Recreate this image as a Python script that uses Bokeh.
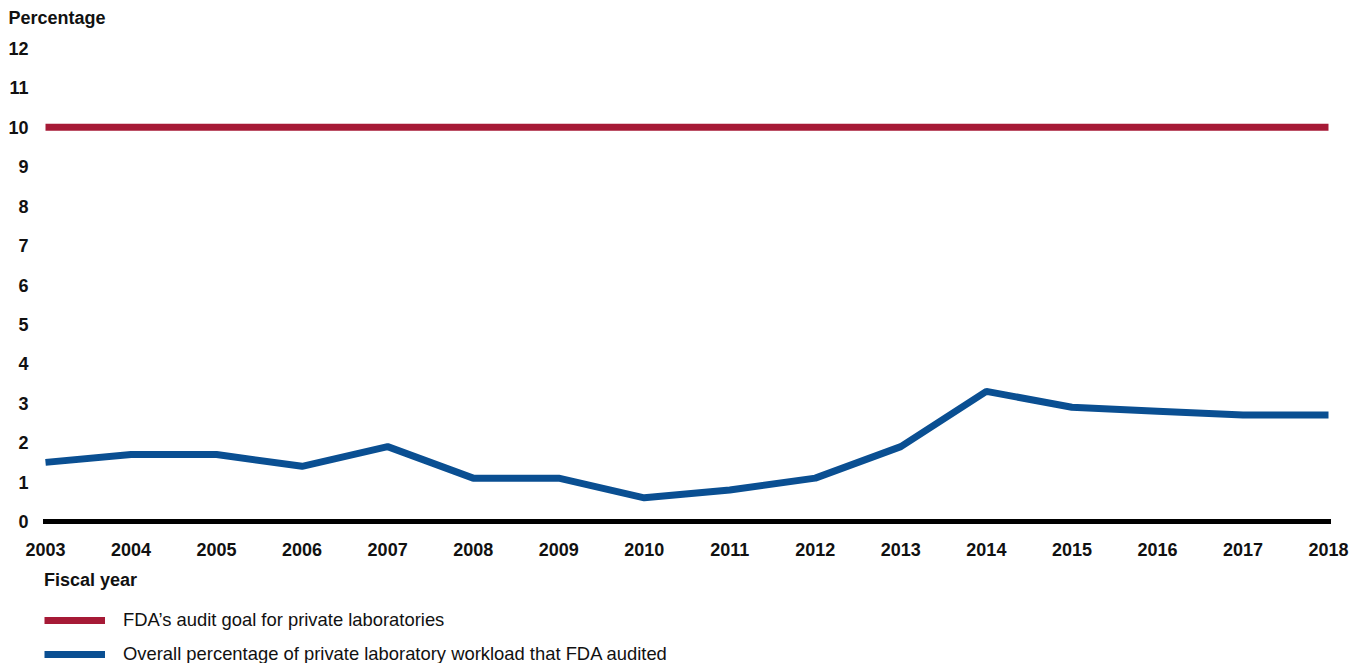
from bokeh.plotting import figure
from bokeh.models import Range1d, FixedTicker, Label, Legend, LegendItem
from bokeh.embed import file_html
from bokeh.resources import INLINE

years = [2003, 2004, 2005, 2006, 2007, 2008, 2009, 2010, 2011, 2012, 2013, 2014, 2015, 2016, 2017, 2018]
audited_pct = [1.5, 1.7, 1.7, 1.4, 1.9, 1.1, 1.1, 0.6, 0.8, 1.1, 1.9, 3.3, 2.9, 2.8, 2.7, 2.7]
goal_pct = [10] * len(years)
y_ticks = list(range(0, 13))

goal_label = "FDA\u2019s audit goal for private laboratories"
audited_label = "Overall percentage of private laboratory workload that FDA audited"
y_title = "Percentage"
x_title = "Fiscal year"

RED = "#A61A36"
BLUE = "#0A4F92"
FONT = "Liberation Sans"
TXT = "#111111"

# page layout (pixels): plot area of the data inside the canvas
W, H = 1359, 663
LEFT, RIGHT, TOP, BOTTOM = 45, 1328, 48, 521
x0, x1 = years[0], years[-1]
y0, y1 = y_ticks[0], y_ticks[-1]
ppx = (RIGHT - LEFT) / (x1 - x0)
ppy = (BOTTOM - TOP) / (y1 - y0)

p = figure(width=W, height=H, output_backend="svg", toolbar_location=None,
           x_range=Range1d(x0 - LEFT / ppx, x1 + (W - RIGHT) / ppx),
           y_range=Range1d(y0 - (H - BOTTOM) / ppy, y1 + TOP / ppy),
           min_border=0)
p.outline_line_color = None
p.xgrid.visible = False
p.ygrid.visible = False

r_goal = p.line(years, goal_pct, line_color=RED, line_width=7)
r_aud = p.line(years, audited_pct, line_color=BLUE, line_width=7)

p.xaxis.ticker = FixedTicker(ticks=years)
p.yaxis.ticker = FixedTicker(ticks=y_ticks)
for ax in (p.xaxis, p.yaxis):
    ax.major_tick_line_color = None
    ax.minor_tick_line_color = None
    ax.major_tick_out = 0
    ax.minor_tick_out = 0
    ax.major_label_text_font = FONT
    ax.major_label_text_font_style = "bold"
    ax.major_label_text_font_size = "18px"
    ax.major_label_text_color = TXT
p.xaxis.fixed_location = y0
p.xaxis.bounds = (x0, x1)
p.xaxis.axis_line_color = "black"
p.xaxis.axis_line_width = 5
p.xaxis.axis_line_cap = "square"
p.xaxis.major_label_standoff = 21
p.yaxis.fixed_location = x0
p.yaxis.bounds = (y0, y1)
p.yaxis.axis_line_color = None
p.yaxis.major_label_standoff = 17

p.add_layout(Label(x=x0, y=y1, x_offset=-37, y_offset=31,
                   text=y_title, text_font=FONT, text_font_style="bold",
                   text_font_size="18px", text_baseline="middle", text_color=TXT))

legend = Legend(items=[LegendItem(label=goal_label, renderers=[r_goal]),
                       LegendItem(label=audited_label, renderers=[r_aud])],
                location=(LEFT - 1, -2), orientation="vertical",
                title=x_title, title_text_font=FONT, title_text_font_style="bold",
                title_text_font_size="18px", title_text_color=TXT, title_standoff=18,
                padding=0, margin=0, spacing=12,
                glyph_width=61, glyph_height=20, label_height=20, label_standoff=18,
                label_text_font=FONT, label_text_font_size="18.4px", label_text_color=TXT,
                border_line_color=None, background_fill_alpha=0)
p.add_layout(legend, "center")

open("out.html", "w").write(file_html(p, INLINE))
